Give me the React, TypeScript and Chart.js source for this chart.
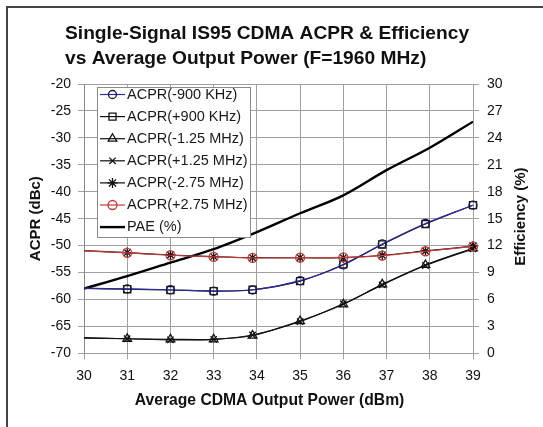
import React, { useEffect, useRef } from 'react';
import { Chart, registerables } from 'chart.js';
import { drawPoint } from 'chart.js/helpers';

Chart.register(...registerables);

const FONT = '"Liberation Sans", Arial, Helvetica, sans-serif';

const titleLines = ['Single-Signal IS95 CDMA ACPR & Efficiency', 'vs Average Output Power (F=1960 MHz)'];
const xTitle = 'Average CDMA Output Power (dBm)';
const yLeftTitle = 'ACPR (dBc)';
const yRightTitle = 'Efficiency (%)';

// x positions of the measured ACPR points (dBm)
const acprPower = [30, 31, 32, 33, 33.9, 35, 36, 36.9, 37.9, 39];
// ACPR series (dBc)
const acprMinus900 = [-57.9, -58.05, -58.2, -58.45, -58.25, -56.5, -53.6, -49.7, -45.9, -42.5];
const acprPlus900 = [-57.95, -58.1, -58.25, -58.45, -58.2, -56.6, -53.5, -49.8, -46.0, -42.5];
const acprMinus125 = [-67.1, -67.3, -67.4, -67.4, -66.7, -64.0, -60.9, -57.2, -53.6, -50.5];
const acprPlus125 = [-67.2, -67.3, -67.5, -67.4, -66.6, -64.1, -60.8, -57.3, -53.7, -50.6];
const acprMinus275 = [-50.95, -51.3, -51.75, -52.05, -52.25, -52.25, -52.25, -51.8, -51.0, -50.1];
const acprPlus275 = [-51.0, -51.35, -51.8, -52.1, -52.3, -52.25, -52.2, -51.85, -51.05, -50.15];

// PAE (%)
const paePower = [30, 31, 32, 33, 34, 35, 36, 37, 38, 39];
const paeValues = [7.2, 8.6, 10.1, 11.6, 13.5, 15.6, 17.6, 20.4, 22.9, 25.8];

const seriesLabels = [
  'ACPR(-900 KHz)',
  'ACPR(+900 KHz)',
  'ACPR(-1.25 MHz)',
  'ACPR(+1.25 MHz)',
  'ACPR(-2.75 MHz)',
  'ACPR(+2.75 MHz)',
  'PAE (%)',
];

const toXY = (xs: number[], ys: number[]) => xs.map((x, i) => ({ x, y: ys[i] }));

const acprStyles = [
  { color: '#2b2b9c', point: 'circle', r: 4, pc: '#1a1a40' },
  { color: '#111111', point: 'rect', r: 5, pc: '#111111' },
  { color: '#111111', point: 'triangle', r: 5, pc: '#111111' },
  { color: '#111111', point: 'crossRot', r: 4.5, pc: '#111111' },
  { color: '#111111', point: 'star', r: 5, pc: '#111111' },
  { color: '#c23b3b', point: 'circle', r: 4.5, pc: '#c23b3b' },
];

const acprSeries = [acprMinus900, acprPlus900, acprMinus125, acprPlus125, acprMinus275, acprPlus275];

const decorPlugin = {
  id: 'decor',
  afterLayout(chart: any) {
    if (chart.titleBlock) {
      chart.titleBlock.left = 65;
    }
  },
  afterDraw(chart: any) {
    const ctx = chart.ctx as CanvasRenderingContext2D;
    const area = chart.chartArea;
    ctx.save();

    // outer frame
    ctx.strokeStyle = '#444';
    ctx.lineWidth = 2;
    ctx.beginPath();
    ctx.moveTo(7, 427);
    ctx.lineTo(7, 7);
    ctx.lineTo(543, 7);
    ctx.stroke();

    // x axis title
    ctx.fillStyle = '#111';
    ctx.font = `bold 15.7px ${FONT}`;
    ctx.textAlign = 'center';
    ctx.textBaseline = 'middle';
    ctx.fillText(xTitle, 269.5, 400.5);

    // right axis title (reads bottom-to-top)
    ctx.font = `bold 15px ${FONT}`;
    ctx.save();
    ctx.translate(521, (area.top + area.bottom) / 2 - 2);
    ctx.rotate(-Math.PI / 2);
    ctx.fillText(yRightTitle, 0, 0);
    ctx.restore();

    // legend box
    const lx = 97.5, ly = 87.5, lw = 153, lh = 150;
    ctx.fillStyle = '#fff';
    ctx.fillRect(lx, ly, lw, lh);
    ctx.strokeStyle = '#8a8a8a';
    ctx.lineWidth = 1;
    ctx.strokeRect(lx, ly, lw, lh);

    chart.data.datasets.forEach((ds: any, i: number) => {
      const y = 94.5 + 22.1 * i;
      ctx.strokeStyle = ds.borderColor;
      ctx.lineWidth = ds.borderWidth;
      ctx.beginPath();
      ctx.moveTo(100, y);
      ctx.lineTo(125, y);
      ctx.stroke();
      if (ds.legendPoint) {
        ctx.strokeStyle = ds.pointBorderColor;
        ctx.fillStyle = 'rgba(0,0,0,0)';
        ctx.lineWidth = ds.pointBorderWidth;
        drawPoint(ctx, { pointStyle: ds.pointStyle, rotation: 0, radius: ds.legendPoint, borderWidth: ds.pointBorderWidth } as any, 112.5, y);
      }
      ctx.fillStyle = '#1a1a1a';
      ctx.font = `14.5px ${FONT}`;
      ctx.textAlign = 'left';
      ctx.textBaseline = 'middle';
      ctx.fillText(ds.label, 127, y);
    });

    ctx.restore();
  },
};

export default function App() {
  const ref = useRef<HTMLCanvasElement>(null);

  useEffect(() => {
    const datasets: any[] = acprSeries.map((vals, i) => ({
      label: seriesLabels[i],
      data: toXY(acprPower, vals),
      yAxisID: 'y',
      borderColor: acprStyles[i].color,
      borderWidth: 1.2,
      pointStyle: acprStyles[i].point,
      pointRadius: (c: any) => (c.dataIndex === 0 ? 0 : acprStyles[i].r),
      legendPoint: acprStyles[i].r,
      pointBorderColor: acprStyles[i].pc,
      pointBackgroundColor: 'rgba(0,0,0,0)',
      pointBorderWidth: 1.3,
      tension: 0.3,
      clip: false,
      order: i === 5 ? -1 : 0,
    }));
    datasets.push({
      label: seriesLabels[6],
      data: toXY(paePower, paeValues),
      yAxisID: 'y2',
      borderColor: '#000000',
      borderWidth: 2.4,
      pointRadius: 0,
      legendPoint: 0,
      tension: 0.4,
      cubicInterpolationMode: 'monotone',
      order: 1,
    });

    const gridColor = '#a0a0a0';
    const tickFont = { family: FONT, size: 14 };

    const chart = new Chart(ref.current!, {
      type: 'line',
      data: { datasets },
      options: {
        animation: false,
        responsive: false,
        devicePixelRatio: 1,
        layout: { padding: { top: 8, left: 8, right: 0, bottom: 0 } },
        plugins: {
          legend: { display: false },
          tooltip: { enabled: false },
          title: {
            display: true,
            text: titleLines,
            align: 'start',
            color: '#111',
            font: { family: FONT, size: 19.2, weight: 'bold', lineHeight: '25px' },
            padding: { top: 13.5, bottom: 12.5 },
          },
        },
        scales: {
          x: {
            type: 'linear',
            min: 30,
            max: 39,
            ticks: { stepSize: 1, font: tickFont, color: '#111', padding: 8 },
            grid: { color: gridColor, tickLength: 6, lineWidth: 1 },
            border: { color: gridColor },
            afterFit: (s: any) => {
              s.height = 73.7;
            },
          },
          y: {
            type: 'linear',
            position: 'left',
            min: -70,
            max: -20,
            ticks: { stepSize: 5, font: tickFont, color: '#111', padding: 7 },
            grid: { color: gridColor, tickLength: 6, lineWidth: 1 },
            border: { color: '#8a8a8a' },
            title: {
              display: true,
              text: yLeftTitle,
              color: '#111',
              font: { family: FONT, size: 15, weight: 'bold' },
              padding: { top: 19, bottom: 0 },
            },
            afterFit: (s: any) => {
              s.width = 76;
            },
          },
          y2: {
            type: 'linear',
            position: 'right',
            min: 0,
            max: 30,
            ticks: { stepSize: 3, font: tickFont, color: '#111', padding: 8 },
            grid: { drawOnChartArea: false, color: gridColor, tickLength: 6, lineWidth: 1 },
            border: { color: gridColor },
            afterFit: (s: any) => {
              s.width = 70;
            },
          },
        },
      } as any,
      plugins: [decorPlugin],
    });
    return () => chart.destroy();
  }, []);

  return (
    <div style={{ position: 'fixed', left: 0, top: 0, width: 543, height: 427, background: '#fff' }}>
      <canvas ref={ref} width={543} height={427} style={{ display: 'block', width: 543, height: 427 }} />
    </div>
  );
}
